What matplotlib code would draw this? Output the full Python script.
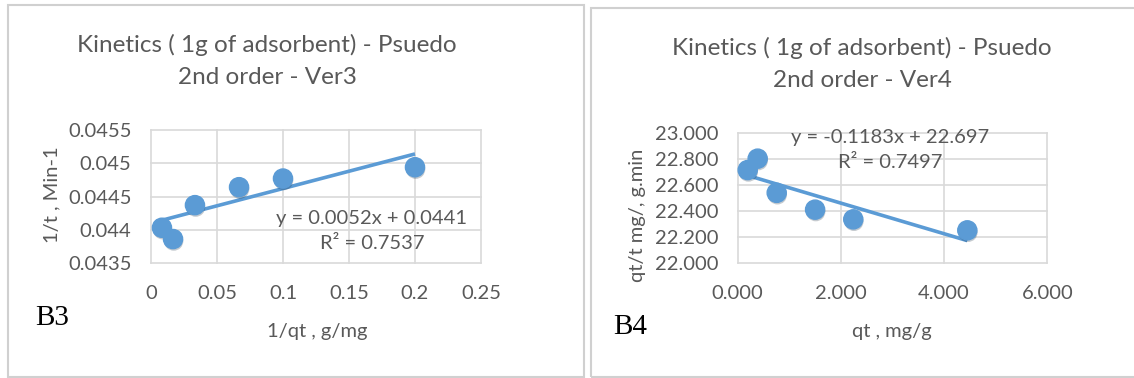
import numpy as np
import matplotlib
matplotlib.use("Agg")
import matplotlib.pyplot as plt
import matplotlib.patheffects as pe
from matplotlib.patches import Rectangle

# Ver3: 1/t against 1/qt
inv_qt = [0.0083, 0.0167, 0.0333, 0.0667, 0.1, 0.2]
inv_t = [0.04403, 0.04386, 0.04437, 0.04464, 0.04477, 0.04494]
fit3 = (0.0052, 0.0441)
r2_3 = 0.7537

# Ver4: qt/t against qt
qt = [0.194, 0.387, 0.756, 1.5, 2.24, 4.45]
qt_over_t = [22.716, 22.804, 22.54, 22.41, 22.335, 22.25]
fit4 = (-0.1183, 22.697)
r2_4 = 0.7497

W, H = 1134, 378
BLUE = "#5B9BD5"
GREY_TXT = "#595959"
GRID = "#D9D9D9"
FONT = "Lato"

fig = plt.figure(figsize=(W / 100, H / 100), dpi=100)


def px_axes(x0, y0, x1, y1):
    # rectangle given in pixels from the top-left corner
    return fig.add_axes([x0 / W, 1 - y1 / H, (x1 - x0) / W, (y1 - y0) / H])


def frame(x0, y0, x1, y1):
    fig.patches.append(Rectangle((x0 / W, 1 - y1 / H), (x1 - x0) / W, (y1 - y0) / H,
                                 transform=fig.transFigure, fill=False,
                                 edgecolor="#D0D0D0", linewidth=1.5))


def draw(ax, x, y, fit, r2, xlim, xticks, ylim, yticks, fmt_x, fmt_y):
    ax.set_xlim(*xlim)
    ax.set_ylim(*ylim)
    ax.set_xticks(xticks)
    ax.set_yticks(yticks)
    ax.set_xticklabels([fmt_x(v) for v in xticks])
    ax.set_yticklabels([fmt_y(v) for v in yticks])
    for s in ax.spines.values():
        s.set_visible(False)
    ax.grid(True, color=GRID, linewidth=1.2)
    for gl in ax.get_xgridlines() + ax.get_ygridlines():
        gl.set_clip_on(False)
    ax.set_axisbelow(True)
    ax.tick_params(length=0, labelsize=14.5, labelcolor=GREY_TXT)
    ax.tick_params(axis="x", pad=16)
    ax.tick_params(axis="y", pad=14)
    for lab in ax.get_xticklabels() + ax.get_yticklabels():
        lab.set_fontfamily(FONT)

    # trendline drawn from the stated equation over the data range
    xs = np.array([min(x), max(x)])
    ax.plot(xs, fit[0] * xs + fit[1], color=BLUE, linewidth=2.6,
            solid_capstyle="butt", zorder=2, clip_on=False)
    ax.scatter(x, y, s=190, color=BLUE, zorder=3, clip_on=False,
               path_effects=[pe.SimplePatchShadow(offset=(0.5, -1.5), alpha=0.25),
                             pe.Normal()])


# left panel
frame(7.5, 4.5, 584, 376.5)
ax1 = px_axes(151, 130, 481, 263)
draw(ax1, inv_qt, inv_t, fit3, r2_3,
     (0, 0.25), [0, 0.05, 0.1, 0.15, 0.2, 0.25],
     (0.0435, 0.0455), [0.0435, 0.044, 0.0445, 0.045, 0.0455],
     lambda v: f"{v:g}", lambda v: f"{v:.4f}".rstrip("0"))
fig.text(267 / W, 1 - 61 / H, "Kinetics ( 1g of adsorbent) - Psuedo\n2nd order - Ver3",
         ha="center", va="center", fontsize=17.5, color=GREY_TXT, family=FONT,
         linespacing=1.65)
fig.text(52 / W, 1 - 195 / H, "1/t , Min-1", rotation=90, ha="center", va="center",
         fontsize=14.5, color=GREY_TXT, family=FONT)
fig.text(317 / W, 1 - 331 / H, "1/qt , g/mg", ha="center", va="center",
         fontsize=14.5, color=GREY_TXT, family=FONT)
sign3 = "+" if fit3[1] >= 0 else "-"
fig.text(372 / W, 1 - 231 / H,
         f"y = {fit3[0]:.4f}x {sign3} {abs(fit3[1]):.4f}\nR² = {r2_3:.4f}",
         ha="center", va="center", fontsize=14.5, color=GREY_TXT, family=FONT,
         linespacing=1.55)
fig.text(35 / W, 1 - 318 / H, "B3", ha="left", va="center", fontsize=21,
         color="black", family="Liberation Serif")

# right panel
frame(591, 8, 1140, 376.5)
ax2 = px_axes(737.7, 133.3, 1047.3, 262.7)
draw(ax2, qt, qt_over_t, fit4, r2_4,
     (0, 6), [0, 2, 4, 6],
     (22.0, 23.0), [22.0, 22.2, 22.4, 22.6, 22.8, 23.0],
     lambda v: f"{v:.3f}", lambda v: f"{v:.3f}")
fig.text(862 / W, 1 - 64 / H, "Kinetics ( 1g of adsorbent) - Psuedo\n2nd order - Ver4",
         ha="center", va="center", fontsize=17.5, color=GREY_TXT, family=FONT,
         linespacing=1.65)
fig.text(637 / W, 1 - 215 / H, "qt/t mg/, g.min", rotation=90, ha="center", va="center",
         fontsize=14.5, color=GREY_TXT, family=FONT)
fig.text(892 / W, 1 - 331 / H, "qt , mg/g", ha="center", va="center",
         fontsize=14.5, color=GREY_TXT, family=FONT)
sign4 = "+" if fit4[1] >= 0 else "-"
fig.text(890 / W, 1 - 150 / H,
         f"y = {fit4[0]:.4f}x {sign4} {abs(fit4[1]):.3f}\nR² = {r2_4:.4f}",
         ha="center", va="center", fontsize=14.5, color=GREY_TXT, family=FONT,
         linespacing=1.55)
fig.text(613 / W, 1 - 327 / H, "B4", ha="left", va="center", fontsize=21,
         color="black", family="Liberation Serif")

fig.savefig("out.png", dpi=100)
